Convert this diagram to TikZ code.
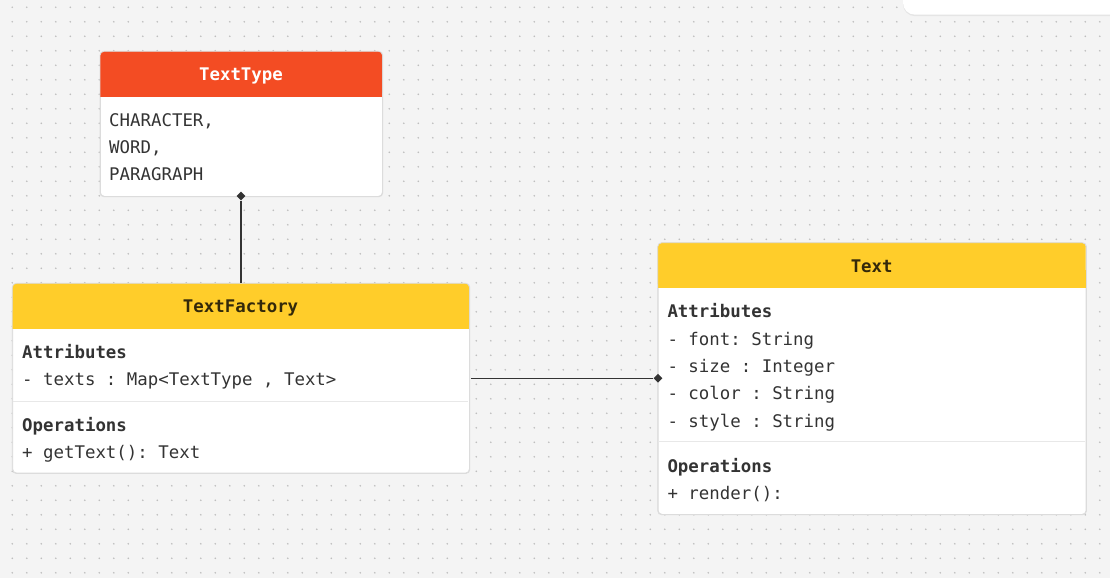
\documentclass[tikz,border=0pt]{standalone}
\usepackage{fontspec}
\setmonofont{DejaVu Sans Mono}
\usetikzlibrary{shapes.geometric,shadows}
\definecolor{bg}{HTML}{F4F4F4}
\definecolor{dotc}{HTML}{BEBEBE}
\definecolor{ink}{HTML}{333333}
\definecolor{hdrorange}{HTML}{F34C23}
\definecolor{hdryellow}{HTML}{FFCD2A}
\definecolor{ytitle}{HTML}{33290A}
\definecolor{bordc}{HTML}{DCDCDC}
\definecolor{sepc}{HTML}{E8E8E8}
\newcommand\umlfont{\ttfamily\fontsize{17.4pt}{20pt}\selectfont}
\tikzset{
  box/.style={draw=bordc, line width=0.8pt, fill=white, rounded corners=4pt, inner sep=0pt, anchor=north west},
  border/.style={draw=bordc, line width=0.8pt, rounded corners=4pt},
  txt/.style={anchor=base west, inner sep=0pt, font=\umlfont, text=ink},
  bold/.style={txt, font=\umlfont\bfseries},
  titlew/.style={anchor=base, inner sep=0pt, font=\umlfont\bfseries, text=white},
  titley/.style={anchor=base, inner sep=0pt, font=\umlfont\bfseries, text=ytitle},
  sepline/.style={draw=sepc, line width=0.8pt},
  dmd/.style={diamond, fill=ink, inner sep=0pt, minimum width=9pt, minimum height=9pt},
  conn/.style={draw=ink, line width=1.3pt}
}
\begin{document}
\begin{tikzpicture}[x=1pt,y=-1pt]
\useasboundingbox (0,0) rectangle (1110,578);
\fill[bg] (0,0) rectangle (1110,578);
\foreach \i in {0,...,76} {
  \foreach \j in {0,...,39} {
    \fill[dotc] (12.3+14.5*\i, 7.3+14.5*\j) circle[radius=0.9pt];
  }
}
% top-right panel
\fill[white, rounded corners=12pt, drop shadow={opacity=0.12, shadow xshift=0pt, shadow yshift=-1.5pt}] (903,-40) rectangle (1150,14.7);

% ---------- TextType ----------
\node[box, minimum width=282pt, minimum height=144.7pt] (tt) at (100,51.3) {};
\fill[hdrorange, rounded corners=4pt] (100,51.3) rectangle (382,96.7);
\fill[hdrorange] (100,80) rectangle (382,96.7);
\path[border] (tt.north west) rectangle (tt.south east);
\node[titlew] (ttn) at (241,80.5) {TextType};
\node[txt] (tt1) at (109,126.8) {CHARACTER,};
\node[txt] (tt2) at (109,153.8) {WORD,};
\node[txt] (tt3) at (109,180.8) {PARAGRAPH};

% ---------- TextFactory ----------
\node[box, minimum width=456.7pt, minimum height=189.4pt] (tf) at (12.3,283.3) {};
\fill[hdryellow, rounded corners=4pt] (12.3,283.3) rectangle (469,328.7);
\fill[hdryellow] (12.3,310) rectangle (469,328.7);
\path[border] (tf.north west) rectangle (tf.south east);
\node[titley] (tfn) at (240.6,312.5) {TextFactory};
\node[bold] (tfa) at (22,358.8) {Attributes};
\node[txt] (tfa1) at (22,385.8) {- texts : Map<TextType , Text>};
\draw[sepline] (13,401) -- (468.3,401);
\node[bold] (tfo) at (22,431) {Operations};
\node[txt] (tfo1) at (22,458) {+ getText(): Text};

% ---------- Text ----------
\node[box, minimum width=428pt, minimum height=271.3pt] (tx) at (657.7,242.7) {};
\fill[hdryellow, rounded corners=4pt] (657.7,242.7) rectangle (1085.7,287.7);
\fill[hdryellow] (657.7,270) rectangle (1085.7,287.7);
\path[border] (tx.north west) rectangle (tx.south east);
\node[titley] (txn) at (871.7,272.5) {Text};
\node[bold] (txa) at (667.3,317.8) {Attributes};
\node[txt] (txa1) at (667.3,345.2) {- font: String};
\node[txt] (txa2) at (667.3,372.5) {- size : Integer};
\node[txt] (txa3) at (667.3,399.8) {- color : String};
\node[txt] (txa4) at (667.3,427.1) {- style : String};
\draw[sepline] (658.4,441.7) -- (1085,441.7);
\node[bold] (txo) at (667.3,472) {Operations};
\node[txt] (txo1) at (667.3,499.3) {+ render():};

% ---------- connectors ----------
\node[dmd] (d1) at (241,196) {};
\draw[conn] (d1.south) -- (d1.south |- tf.north);
\node[dmd] (d2) at (658,378.3) {};
\draw[conn] ([xshift=1pt]tf.east |- d2) -- (d2.west);
\end{tikzpicture}
\end{document}
